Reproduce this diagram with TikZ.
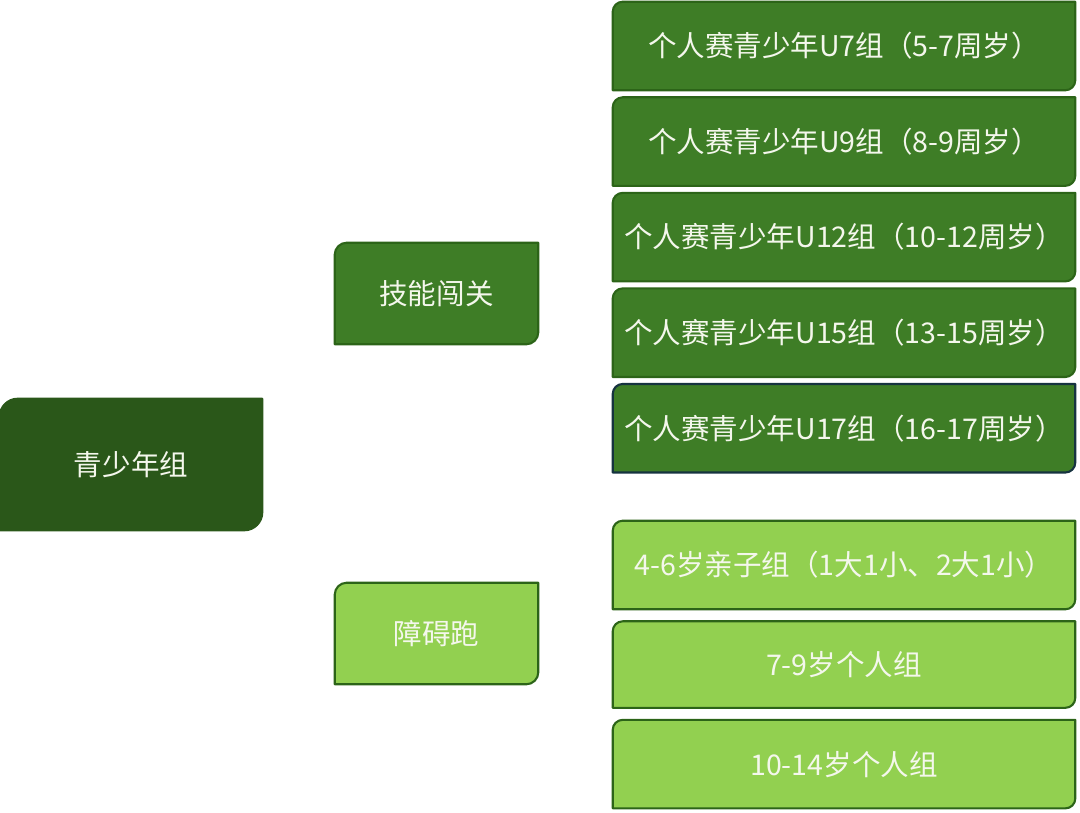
\documentclass[tikz,border=0pt]{standalone}
\usepackage{fontspec}
\setmainfont{Noto Sans CJK SC}
\usetikzlibrary{
    positioning,
    calc,
    backgrounds
}
\definecolor{VerdeEscuro}{HTML}{2A5719}
\definecolor{VerdeMedio}{HTML}{3E7D26}
\definecolor{VerdeClaro}{HTML}{92D050}
\definecolor{BordaVerde}{HTML}{2C6418}
\definecolor{BordaAzul}{HTML}{163340}
\definecolor{TextoClaro}{HTML}{F4F7EC}

\tikzset{
    caixa/.style={
        minimum width=11.55cm,
        minimum height=2.2cm,
        inner sep=0pt,
        text=TextoClaro,
        font=\fontsize{20.3pt}{23pt}\selectfont
    },
    ramo/.style={
        caixa,
        minimum width=5.075cm,
        minimum height=2.525cm
    }
}

\begin{document}
\begin{tikzpicture}

    \useasboundingbox (0,0) rectangle (27,-20.3);

    \node[caixa, minimum width=6.55cm, minimum height=3.275cm]
        (raiz) at (3.275,-11.6125) {青少年组};

    \node[ramo] (habilidade) at (10.9125,-7.3375) {技能闯关};
    \node[ramo] (obstaculo) at (10.9125,-15.8375) {障碍跑};

    \node[caixa] (u7) at (21.1,-1.15) {个人赛青少年U7组（5-7周岁）};
    \node[caixa, below=0.175cm of u7] (u9) {个人赛青少年U9组（8-9周岁）};
    \node[caixa, below=0.175cm of u9] (u12) {个人赛青少年U12组（10-12周岁）};
    \node[caixa, below=0.175cm of u12] (u15) {个人赛青少年U15组（13-15周岁）};
    \node[caixa, below=0.175cm of u15] (u17) {个人赛青少年U17组（16-17周岁）};

    \node[caixa] (familia) at (21.1,-14.125) {4-6岁亲子组（1大1小、2大1小）};
    \node[caixa, minimum height=2.15cm, below=0.3cm of familia] (individual) {7-9岁个人组};
    \node[caixa, below=0.3cm of individual] (juvenil) {10-14岁个人组};

    % folha: canto superior esquerdo e inferior direito arredondados
    \begin{scope}[on background layer]
        \foreach \n/\f/\d/\r in {
            raiz/VerdeEscuro/VerdeEscuro/0.45cm,
            habilidade/VerdeMedio/BordaVerde/0.3cm,
            obstaculo/VerdeClaro/BordaVerde/0.3cm,
            u7/VerdeMedio/BordaVerde/0.25cm,
            u9/VerdeMedio/BordaVerde/0.25cm,
            u12/VerdeMedio/BordaVerde/0.25cm,
            u15/VerdeMedio/BordaVerde/0.25cm,
            u17/VerdeMedio/BordaAzul/0.25cm,
            familia/VerdeClaro/BordaVerde/0.25cm,
            individual/VerdeClaro/BordaVerde/0.25cm,
            juvenil/VerdeClaro/BordaVerde/0.25cm
        }{
            \draw[fill=\f, draw=\d, line width=1.5pt, line join=round]
                (\n.south west)
                -- ([yshift=-\r]\n.north west)
                arc[start angle=180, end angle=90, radius=\r]
                -- (\n.north east)
                -- ([yshift=\r]\n.south east)
                arc[start angle=0, end angle=-90, radius=\r]
                -- cycle;
        }
    \end{scope}

\end{tikzpicture}
\end{document}
